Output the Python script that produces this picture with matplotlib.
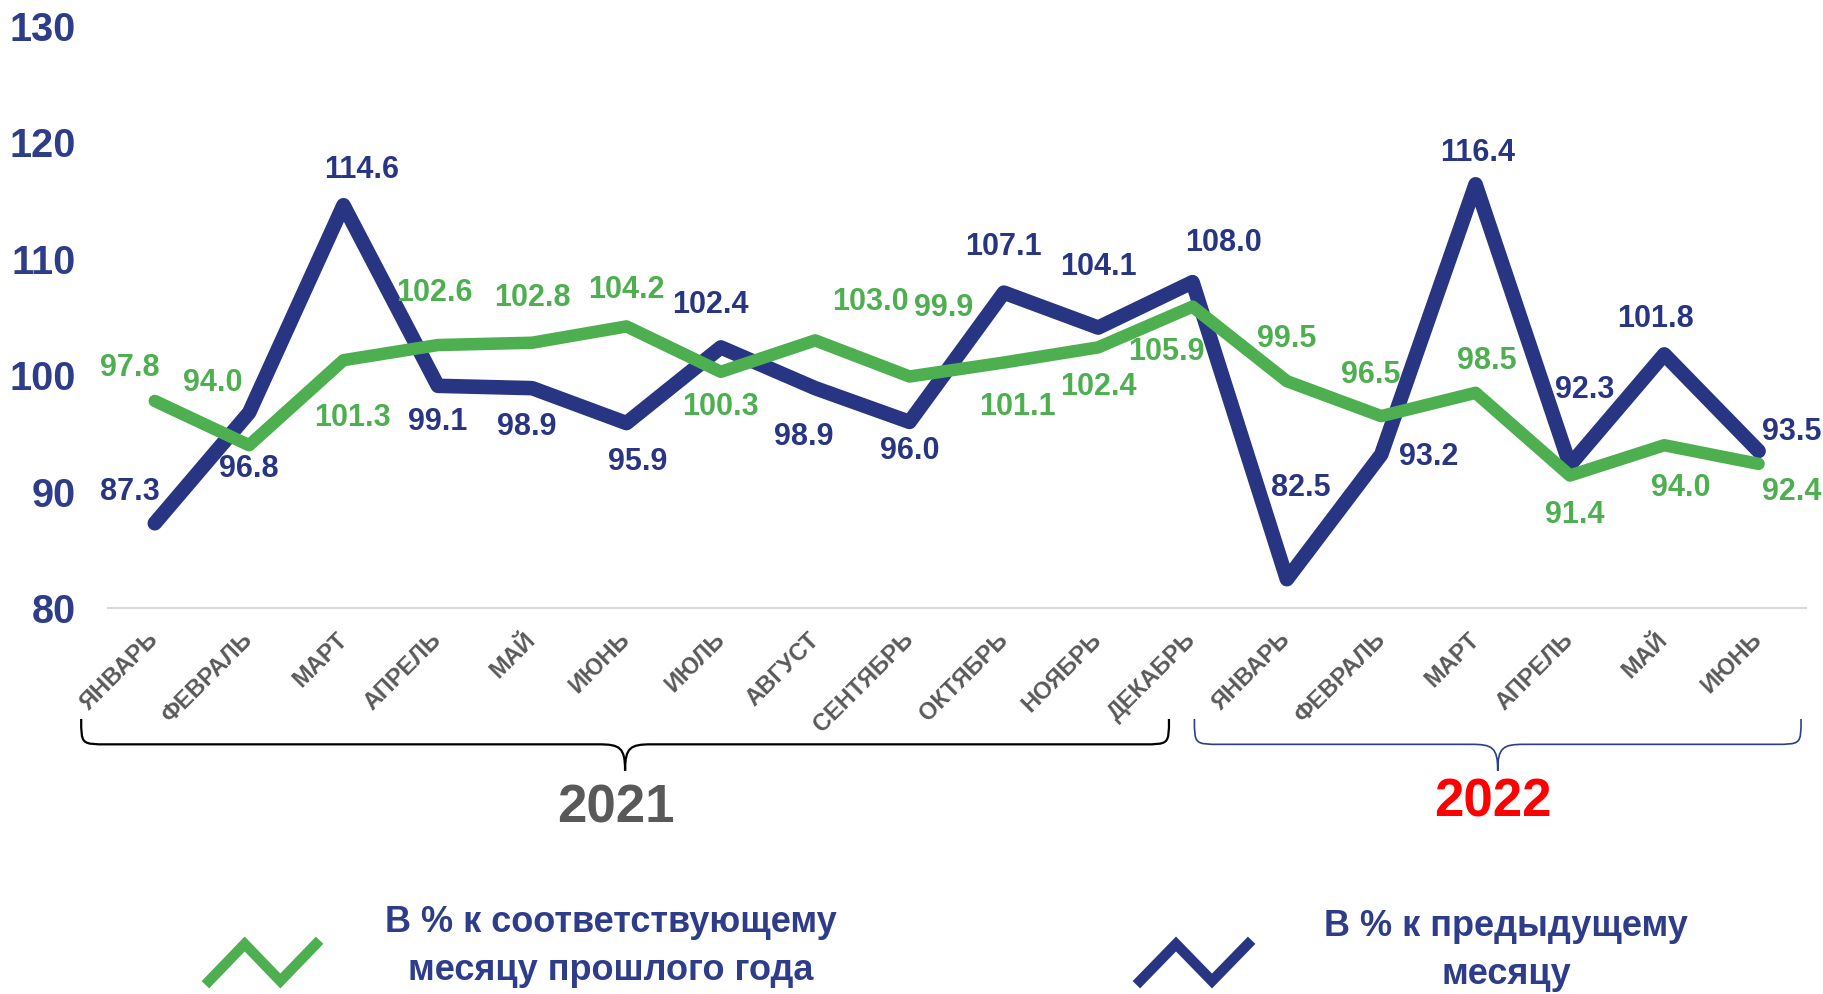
import numpy as np
import matplotlib.pyplot as plt
from matplotlib.path import Path
from matplotlib.patches import PathPatch
from matplotlib.lines import Line2D
from matplotlib.transforms import blended_transform_factory

plt.rcParams['font.family'] = ['Liberation Sans', 'DejaVu Sans']

# Данные
months = ['ЯНВАРЬ', 'ФЕВРАЛЬ', 'МАРТ', 'АПРЕЛЬ', 'МАЙ', 'ИЮНЬ', 'ИЮЛЬ', 'АВГУСТ',
          'СЕНТЯБРЬ', 'ОКТЯБРЬ', 'НОЯБРЬ', 'ДЕКАБРЬ',
          'ЯНВАРЬ', 'ФЕВРАЛЬ', 'МАРТ', 'АПРЕЛЬ', 'МАЙ', 'ИЮНЬ']
yoy = [97.8, 94.0, 101.3, 102.6, 102.8, 104.2, 100.3, 103.0, 99.9, 101.1, 102.4, 105.9,
       99.5, 96.5, 98.5, 91.4, 94.0, 92.4]
mom = [87.3, 96.8, 114.6, 99.1, 98.9, 95.9, 102.4, 98.9, 96.0, 107.1, 104.1, 108.0,
       82.5, 93.2, 116.4, 92.3, 101.8, 93.5]
years = ['2021', '2022']
legend_labels = ['В % к соответствующему\nмесяцу прошлого года', 'В % к предыдущему\nмесяцу']

# Смещения подписей (категории, единицы оси)
yoy_off = [(-0.26, 2.8), (-0.39, 5.3), (0.1, -5.0), (-0.04, 4.5), (0, 3.8), (0, 3.1),
           (0, -3.0), (0.59, 3.3), (0.36, 5.9), (0.14, -3.8), (0, -3.4), (-0.28, -3.9),
           (0, 3.6), (-0.11, 3.5), (0.12, 2.7), (0.05, -3.4), (0.17, -3.7), (0.35, -2.4)]
mom_off = [(-0.26, 2.7), (0, -4.8), (0.19, 3.0), (0, -3.1), (-0.06, -3.3), (0.12, -3.3),
           (-0.11, 3.6), (-0.12, -4.2), (0, -2.5), (0, 3.9), (0, 5.2), (0.33, 3.4),
           (0.15, 7.8), (0.5, -0.2), (0.02, 2.7), (0.16, 6.4), (-0.09, 3.0), (0.35, 1.6)]

green = '#4DAF4F'
blue = '#283583'
tick_blue = '#2E3D8A'
grey = '#595959'

fig = plt.figure(figsize=(18.24, 9.94), dpi=100)
ax = fig.add_axes([0.059, 0.388, 0.931, 0.586])

x = np.arange(len(months))
ax.plot(x, mom, color=blue, lw=10.5, solid_joinstyle='round', solid_capstyle='round',
        clip_on=False, zorder=3)
ax.plot(x, yoy, color=green, lw=9, solid_joinstyle='round', solid_capstyle='round',
        clip_on=False, zorder=4)

for i in range(len(x)):
    dx, dy = yoy_off[i]
    ax.text(x[i] + dx, yoy[i] + dy, f'{yoy[i]:.1f}', color=green, fontsize=22,
            fontweight='bold', ha='center', va='center', zorder=5)
    dx, dy = mom_off[i]
    ax.text(x[i] + dx, mom[i] + dy, f'{mom[i]:.1f}', color=blue, fontsize=22,
            fontweight='bold', ha='center', va='center', zorder=5)

ax.set_xlim(-0.5, len(months) - 0.5)
ax.set_ylim(80, 130)
ax.set_yticks(range(80, 131, 10))
ax.tick_params(axis='y', length=0, pad=23, labelsize=28.5, labelcolor=tick_blue)
for lbl in ax.get_yticklabels():
    lbl.set_fontweight('bold')
ax.set_xticks(x)
ax.set_xticklabels(months, rotation=45, ha='right', va='center', rotation_mode='anchor',
                   fontsize=17, fontweight='bold', color=grey)
ax.tick_params(axis='x', length=0, pad=20)
for s in ['top', 'right', 'left']:
    ax.spines[s].set_visible(False)
ax.spines['bottom'].set_color('#D9D9D9')
ax.spines['bottom'].set_linewidth(1.5)

# Фигурные скобки под осью
tr = blended_transform_factory(ax.transData, ax.transAxes)


def brace(x0, x1, color, lw):
    yt, yh, ytip = -0.19, -0.2335, -0.279
    xc = (x0 + x1) / 2
    r = 0.28
    verts = [(x0, yt), (x0, yh), (x0, yh), (x0 + r, yh),
             (xc - r, yh),
             (xc - r * 0.2, yh), (xc, yh - 0.005), (xc, ytip),
             (xc, yh - 0.005), (xc + r * 0.2, yh), (xc + r, yh),
             (x1 - r, yh),
             (x1, yh), (x1, yh), (x1, yt)]
    codes = [Path.MOVETO, Path.CURVE4, Path.CURVE4, Path.CURVE4,
             Path.LINETO,
             Path.CURVE4, Path.CURVE4, Path.CURVE4,
             Path.CURVE4, Path.CURVE4, Path.CURVE4,
             Path.LINETO,
             Path.CURVE4, Path.CURVE4, Path.CURVE4]
    ax.add_patch(PathPatch(Path(verts, codes), fill=False, edgecolor=color, lw=lw,
                           transform=tr, clip_on=False))
    return xc


c1 = brace(-0.78, 10.75, 'black', 1.6)
c2 = brace(11.02, 17.45, tick_blue, 1.2)
ax.text(c1 - 0.1, -0.343, years[0], transform=tr, ha='center', va='center',
        fontsize=38, fontweight='bold', color=grey)
ax.text(c2 - 0.05, -0.333, years[1], transform=tr, ha='center', va='center',
        fontsize=38, fontweight='bold', color='#FF0000')

# Легенда
def legend_icon(x0, x1, y0, y1, color):
    xs = np.linspace(x0, x1, 4) / 1824
    ys = 1 - np.array([y0, y1, y0, y1]) / 994
    fig.add_artist(Line2D(xs, ys, color=color, lw=7.5, solid_joinstyle='miter'))


legend_icon(209, 316, 981, 944, green)
legend_icon(1140, 1248, 981, 944, blue)
fig.text(611 / 1824, 0.048, legend_labels[0], ha='center', va='center', fontsize=26,
         fontweight='bold', color=tick_blue, linespacing=1.5)
fig.text(1506 / 1824, 0.044, legend_labels[1], ha='center', va='center', fontsize=26,
         fontweight='bold', color=tick_blue, linespacing=1.5)

fig.savefig('out.png', dpi=100)
